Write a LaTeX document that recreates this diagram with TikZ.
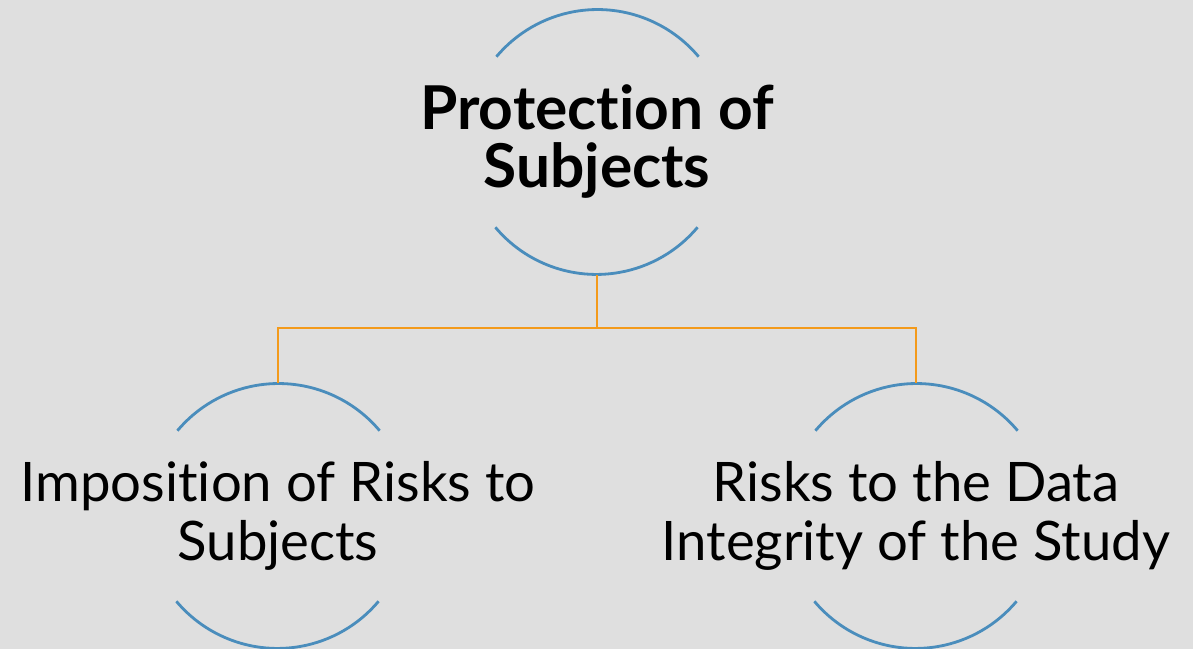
\documentclass[tikz,border=0pt]{standalone}
\usepackage{fontspec}
\setmainfont[Ligatures=NoCommon]{Lato}
\usetikzlibrary{positioning}

\definecolor{slidebg}{HTML}{DFDFDF}
\definecolor{ringblue}{HTML}{4A8DBC}
\definecolor{linkorange}{HTML}{F39A1B}

\tikzset{
  ring/.style={circle,minimum size=26.4mm,inner sep=0pt},
  arcline/.style={draw=ringblue,line width=0.8pt},
  link/.style={draw=linkorange,line width=0.8pt},
  headtext/.style={align=center,font=\fontsize{17.2}{16.5}\selectfont\bfseries},
  leaftext/.style={align=center,font=\fontsize{15.5}{17}\selectfont}
}

\begin{document}
\begin{tikzpicture}[x=0.1mm,y=0.1mm]
  \fill[slidebg] (0,0) rectangle (1193,649);
  \useasboundingbox (0,0) rectangle (1193,649);

  % rings
  \node[ring] (top) at (597,507) {};
  \node[ring] (left) at (278,133) {};
  \node[ring] (right) at (916,133) {};

  \foreach \name in {top,left,right}
  {
    % arc above and arc below the text
    \draw[arcline] (\name.40) arc (40:140:132);
    \draw[arcline] (\name.220) arc (220:320:132);
  }

  % texts
  \node[headtext] (toptext) at (top) {Protection of\\Subjects};
  \node[leaftext] (lefttext) at (left) {Imposition of Risks to\\Subjects};
  \node[leaftext] (righttext) at (right) {Risks to the Data\\Integrity of the Study};

  % connectors
  \coordinate (fork) at (597,321);
  \draw[link] (top.south) -- (fork) -| (left.north);
  \draw[link] (fork) -| (right.north);
\end{tikzpicture}
\end{document}
